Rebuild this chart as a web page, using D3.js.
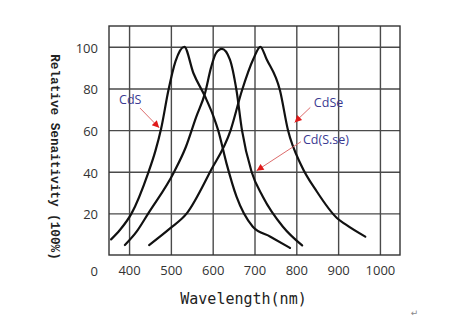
<!DOCTYPE html>
<html><head><meta charset="utf-8">
<script src="https://cdn.jsdelivr.net/npm/d3@7"></script>
<style>
html,body{margin:0;padding:0;background:#fff;}
svg{display:block;}
</style></head>
<body><svg id="c" width="454" height="330"></svg>
<script>
// ---- data ----
const xTicks = [400, 500, 600, 700, 800, 900, 1000];
const yTicks = [20, 40, 60, 80, 100];
const zeroLabel = "0";
const yTitle = "Relative Senaitivity (100%)";
const xTitle = "Wavelength(nm)";

const cdsWave = [357, 378, 406, 445, 463, 477, 494, 511, 532, 554, 582, 602, 613, 633, 657, 696, 738, 785];
const cdsVal  = [7.5, 12, 20, 39, 50, 61, 79, 93, 100, 87.3, 76, 66.5, 60, 44, 28, 13.6, 8.8, 3.4];

const cdsseWave = [390, 418, 446, 508, 536, 560, 582, 596, 608, 622, 641, 657, 670, 693, 720, 768, 814];
const cdsseVal  = [4.8, 11.2, 20, 40, 52, 66, 78, 90, 97, 99, 94, 79, 60, 40, 28, 13.6, 4.6];

const cdseWave = [448, 498, 538, 594, 643, 670, 697, 714, 729, 761, 780, 812, 849, 897, 917, 965];
const cdseVal  = [4.8, 12.8, 20, 40, 60, 79, 94, 100, 94, 79, 60, 43, 30.5, 17.8, 14.8, 8.8];

const labelNames = ["CdS", "CdSe", "Cd(S.se)"];
// label anchor (wavelength, value) and arrow from/tip (wavelength, value)
const labelWave = [376, 842, 816];
const labelVal  = [74.5, 73.2, 55.2];
const arrowFromWave = [426, 833.5, 811];
const arrowFromVal  = [70.6, 70.9, 54.4];
const arrowTipWave  = [472, 796, 705];
const arrowTipVal   = [61.1, 63.7, 40.5];

// ---- chart ----
const svg = d3.select("#c");
const L = 109, R = 400, T = 26, B = 255;
const x = d3.scaleLinear().domain([352, 1048]).range([L, R]);
const y = d3.scaleLinear().domain([0, 110]).range([B, T]);

const gridColor = "#4a4a4a";
const tickFont = "'Open Sans', 'Noto Sans', sans-serif";

// y axis with gridlines
const gy = svg.append("g").attr("transform", `translate(${L},0)`)
  .call(d3.axisLeft(y).tickValues(yTicks).tickSizeInner(-(R - L)).tickSizeOuter(0).tickPadding(11).tickFormat(d3.format("d")));
gy.select(".domain").remove();
gy.selectAll(".tick line").attr("stroke", gridColor).attr("stroke-width", 1.4);
gy.selectAll(".tick text").attr("fill", "#333").style("font-family", tickFont).style("font-size", "13px").attr("dy", "0.42em");

// x axis with gridlines
const gx = svg.append("g").attr("transform", `translate(0,${B})`)
  .call(d3.axisBottom(x).tickValues(xTicks).tickSizeInner(-(B - T)).tickSizeOuter(0).tickPadding(11).tickFormat(d3.format("d")));
gx.select(".domain").remove();
gx.selectAll(".tick line").attr("stroke", gridColor).attr("stroke-width", 1.4);
gx.selectAll(".tick text").attr("fill", "#333").style("font-family", tickFont).style("font-size", "13px");

// frame
svg.append("rect").attr("x", L).attr("y", T).attr("width", R - L).attr("height", B - T)
  .attr("fill", "none").attr("stroke", "#333").attr("stroke-width", 1.4);

// zero label
svg.append("text").attr("x", L - 11).attr("y", B + 16).attr("dy", "0.42em")
  .attr("text-anchor", "end").attr("fill", "#333")
  .style("font-family", tickFont).style("font-size", "13px").text(zeroLabel);

// curves
const line = d3.line().x(d => x(d[0])).y(d => y(d[1])).curve(d3.curveMonotoneX);
const series = [
  d3.zip(cdsWave, cdsVal),
  d3.zip(cdsseWave, cdsseVal),
  d3.zip(cdseWave, cdseVal)
];
svg.append("g").selectAll("path").data(series).join("path")
  .attr("d", line).attr("fill", "none").attr("stroke", "#111").attr("stroke-width", 2.2)
  .attr("stroke-linejoin", "round").attr("stroke-linecap", "round");

// arrows and labels
const defs = svg.append("defs");
defs.append("marker").attr("id", "ah").attr("viewBox", "0 0 10 10").attr("refX", 10).attr("refY", 5)
  .attr("markerWidth", 9).attr("markerHeight", 7).attr("markerUnits", "userSpaceOnUse").attr("orient", "auto")
  .append("path").attr("d", "M0,0 L10,5 L0,10 Z").attr("fill", "#e01818");

labelNames.forEach((name, i) => {
  svg.append("line")
    .attr("x1", x(arrowFromWave[i])).attr("y1", y(arrowFromVal[i]))
    .attr("x2", x(arrowTipWave[i])).attr("y2", y(arrowTipVal[i]))
    .attr("stroke", "#d85a5a").attr("stroke-width", 0.9).attr("marker-end", "url(#ah)");
  svg.append("text").attr("x", x(labelWave[i])).attr("y", y(labelVal[i])).attr("dy", "0.35em")
    .attr("fill", "#3a3a92").style("font-family", tickFont).style("font-size", "12.5px").text(name);
});

// axis titles
svg.append("text").attr("transform", `translate(55,157) rotate(90)`).attr("text-anchor", "middle").attr("dy", "0.35em")
  .attr("fill", "#222").style("font-family", "'Liberation Mono', monospace").style("font-weight", "bold").style("font-size", "12.7px")
  .text(yTitle);
svg.append("text").attr("x", 243.5).attr("y", 299).attr("text-anchor", "middle").attr("dy", "0.35em")
  .attr("fill", "#222").style("font-family", "'DejaVu Sans Mono', monospace").style("font-size", "15px")
  .text(xTitle);

// return mark
svg.append("text").attr("x", 414.5).attr("y", 313).attr("text-anchor", "middle").attr("dy", "0.35em")
  .attr("fill", "#888").style("font-family", "'DejaVu Sans', sans-serif").style("font-size", "9px").text("\u21B5");
</script></body></html>
